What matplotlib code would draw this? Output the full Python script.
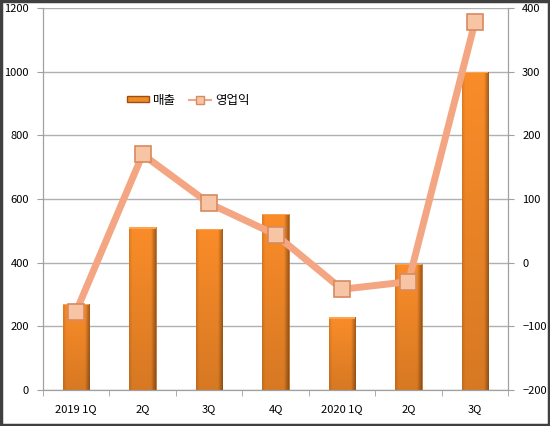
import numpy as np
import matplotlib.pyplot as plt
from matplotlib.patches import Rectangle
from matplotlib.lines import Line2D

plt.rcParams['font.family'] = ['Noto Sans CJK KR', 'DejaVu Sans']

# data
quarters = ['2019 1Q', '2Q', '3Q', '4Q', '2020 1Q', '2Q', '3Q']
sales = [270, 512, 506, 553, 229, 396, 1000]
op_profit = [-77, 170, 93, 44, -42, -30, 378]

fig = plt.figure(figsize=(5.5, 4.26), dpi=100)
ax = fig.add_axes([0.078, 0.085, 0.846, 0.896])
ax2 = ax.twinx()

x = np.arange(len(quarters))
bar_w = 0.4

# bars: orange, darker toward the right edge and toward the bottom
gx = np.linspace(0, 1, 64)
gy = np.linspace(0, 1, 64)  # 0 = bottom, 1 = top (origin='lower')
shade_x = 1 - 0.12 * np.clip((0.12 - gx) / 0.12, 0, 1) - 0.35 * np.clip((gx - 0.82) / 0.18, 0, 1)
shade_y = 0.86 + 0.14 * gy
base = np.array([0.98, 0.55, 0.16])
img = base[None, None, :] * shade_x[None, :, None] * shade_y[:, None, None]
img = np.clip(img, 0, 1)

bars = ax.bar(x, sales, width=bar_w, color='#f08a25', edgecolor='#b0601a',
              linewidth=0.5, zorder=2)
for b in bars:
    x0, y0 = b.get_x(), b.get_y()
    w, h = b.get_width(), b.get_height()
    im = ax.imshow(img, extent=[x0, x0 + w, y0, y0 + h], aspect='auto',
                   origin='lower', zorder=2.1)
    im.set_clip_path(b)
    ax.add_patch(Rectangle((x0, y0 + h - 5), w, 5, color='#f9a550', zorder=2.2,
                           linewidth=0))

ax.set_xlim(-0.5, len(quarters) - 0.5)
ax.set_ylim(0, 1200)
ax.set_yticks(np.arange(0, 1201, 200))
ax.grid(axis='y', color='#b0b0b0', linewidth=1, zorder=0)
ax.set_axisbelow(True)

ax2.set_ylim(-200, 400)
ax2.set_yticks(np.arange(-200, 401, 100))
ax2.plot(x, op_profit, color='#f4a582', linewidth=5, solid_capstyle='round',
         marker='s', markersize=11.5, markerfacecolor='#f7c4a4',
         markeredgecolor='#d88a60', markeredgewidth=1.2, zorder=3)

ax.set_xticks(x)
ax.set_xticklabels(quarters)
ax.set_xticks(np.arange(-0.5, len(quarters), 1), minor=True)
ax.tick_params(axis='x', which='major', length=0, pad=10, labelsize=8)
ax.tick_params(axis='x', which='minor', length=4, color='#a0a0a0', direction='out')
ax.tick_params(axis='y', labelsize=8, length=4, color='#a0a0a0', pad=6)
ax2.tick_params(axis='y', labelsize=8, length=4, color='#a0a0a0', pad=6)

for a in (ax, ax2):
    a.spines['top'].set_visible(False)
    for s in ('left', 'right', 'bottom'):
        a.spines[s].set_color('#a0a0a0')

# legend
h1 = Rectangle((0, 0), 1, 1, facecolor='#f08a25', edgecolor='#9a4f12')
h2 = Line2D([], [], color='#f4a582', linewidth=1.5, marker='s', markersize=6,
            markerfacecolor='#f7c4a4', markeredgecolor='#d88a60')
fig.legend([h1, h2], ['매출', '영업익'], loc='center left',
           bbox_to_anchor=(0.21, 0.765), ncol=2, frameon=False, fontsize=9,
           handlelength=1.8, handleheight=0.4, columnspacing=1.0,
           handletextpad=0.3)

fig.patches.append(Rectangle((0.002, 0.002), 0.996, 0.996, transform=fig.transFigure,
                             fill=False, edgecolor='#404040', linewidth=2.5))

fig.savefig('out.png', dpi=100)
